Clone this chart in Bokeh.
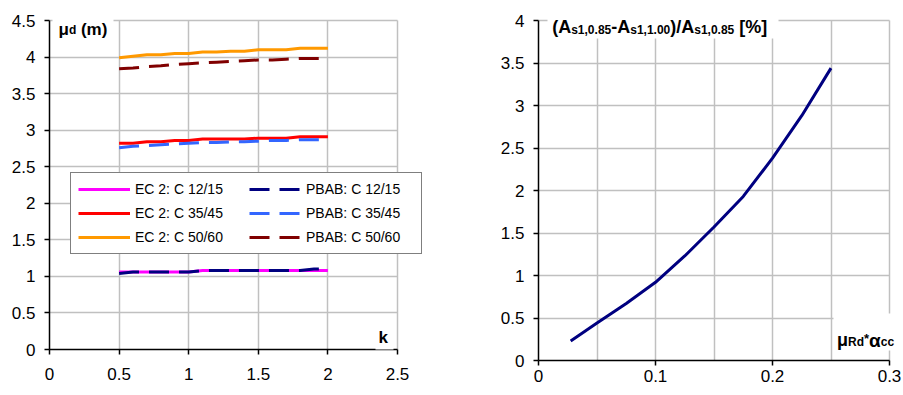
from bokeh.plotting import figure
from bokeh.models import (FixedTicker, CustomJSTickFormatter, Legend, LegendItem,
                          Label, Range1d, BoxAnnotation, Grid)
from bokeh.embed import file_html
from bokeh.resources import INLINE

# ---------------- data ----------------
k_values = [0.5, 0.6, 0.7, 0.8, 0.9, 1.0, 1.1, 1.2, 1.3, 1.4, 1.5, 1.6, 1.7, 1.8, 1.9, 2.0]
ec2_c12 = [1.06, 1.06, 1.06, 1.06, 1.06, 1.06, 1.08, 1.08, 1.08, 1.08, 1.08, 1.08, 1.08, 1.08, 1.08, 1.08]
ec2_c35 = [2.82, 2.82, 2.84, 2.84, 2.86, 2.86, 2.88, 2.88, 2.88, 2.88, 2.89, 2.89, 2.89, 2.91, 2.91, 2.91]
ec2_c50 = [3.99, 4.01, 4.03, 4.03, 4.05, 4.05, 4.07, 4.07, 4.08, 4.08, 4.10, 4.10, 4.10, 4.12, 4.12, 4.12]
pbab_c12 = [1.04, 1.06, 1.06, 1.06, 1.06, 1.06, 1.08, 1.08, 1.08, 1.08, 1.08, 1.08, 1.08, 1.08, 1.10, 1.10]
pbab_c35 = [2.76, 2.78, 2.79, 2.80, 2.81, 2.82, 2.83, 2.83, 2.84, 2.84, 2.85, 2.86, 2.86, 2.87, 2.87, 2.87]
pbab_c50 = [3.84, 3.85, 3.87, 3.88, 3.90, 3.91, 3.92, 3.93, 3.94, 3.95, 3.96, 3.96, 3.97, 3.98, 3.98, 3.98]

series_labels = ["EC 2: C 12/15", "EC 2: C 35/45", "EC 2: C 50/60",
                 "PBAB: C 12/15", "PBAB: C 35/45", "PBAB: C 50/60"]

mu_values = [0.0275, 0.05, 0.075, 0.1, 0.125, 0.15, 0.175, 0.2, 0.225, 0.25]
ratio_values = [0.23, 0.44, 0.67, 0.92, 1.23, 1.57, 1.93, 2.38, 2.88, 3.44]

left_xticks = [0, 0.5, 1, 1.5, 2, 2.5]
left_yticks = [0, 0.5, 1, 1.5, 2, 2.5, 3, 3.5, 4, 4.5]
right_xticks = [0, 0.1, 0.2, 0.3]
right_xgrid = [0.05, 0.1, 0.15, 0.2, 0.25, 0.3]
right_yticks = [0, 0.5, 1, 1.5, 2, 2.5, 3, 3.5, 4]

FONT = "Liberation Sans"
GRID = "#c0c0c0"
HAS_CROSS = "cross_bounds" in Grid.properties()

BOLD_W = {' ': 278, '(': 333, ')': 333, ',': 278, '-': 333, '.': 278, '/': 278,
          ':': 333, 'A': 722, '[': 333, ']': 333, '%': 889, 's': 556, 'd': 611,
          'k': 556, 'm': 889, 'c': 556, 'R': 722, '*': 389, 'μ': 611, 'α': 620}


def text_w(s, size):
    return sum(BOLD_W.get(c, 556) for c in s) / 1000.0 * size


def compose(p, to_x, to_y, x0, base, pieces, box):
    l, r, top, bot = box
    p.add_layout(BoxAnnotation(left=to_x(l), right=to_x(r), top=to_y(top), bottom=to_y(bot),
                               fill_color="white", fill_alpha=1.0, line_alpha=0.0))
    x = x0
    for t, size, dy in pieces:
        stripped = t.lstrip(" ")
        x += text_w(t[:len(t) - len(stripped)], size)
        p.add_layout(Label(x=to_x(x), y=to_y(base + dy), text=stripped, text_font=FONT,
                           text_font_size=f"{size}px", text_font_style="bold",
                           text_color="black", text_baseline="alphabetic",
                           text_align="left"))
        x += text_w(stripped, size)


fmt_code = "return String(parseFloat(tick.toFixed(3)))"


def style(p, xt, yt, xg, yg, xmax, ymax, xstand, ystand):
    p.outline_line_color = None
    p.xaxis.ticker = FixedTicker(ticks=xt)
    p.yaxis.ticker = FixedTicker(ticks=yt)
    p.xaxis.bounds = (0, xmax)
    p.yaxis.bounds = (0, ymax)
    if HAS_CROSS:
        p.xgrid.ticker = FixedTicker(ticks=xg)
        p.ygrid.ticker = FixedTicker(ticks=yg)
        p.xgrid.cross_bounds = (0, ymax)
        p.ygrid.cross_bounds = (0, xmax)
        p.grid.grid_line_color = GRID
        p.grid.grid_line_width = 1.5
    else:
        p.grid.visible = False
        gx = [v for v in xg if v > 0]
        gy = [v for v in yg if v > 0]
        p.segment(x0=gx, y0=[0] * len(gx), x1=gx, y1=[ymax] * len(gx),
                  line_color=GRID, line_width=1.5)
        p.segment(x0=[0] * len(gy), y0=gy, x1=[xmax] * len(gy), y1=gy,
                  line_color=GRID, line_width=1.5)
    for ax in (p.xaxis, p.yaxis):
        ax.formatter = CustomJSTickFormatter(code=fmt_code)
        ax.axis_line_color = "black"
        ax.axis_line_width = 1.5
        ax.major_tick_line_color = "black"
        ax.major_tick_line_width = 1.5
        ax.major_tick_in = 0
        ax.major_tick_out = 5
        ax.minor_tick_line_color = None
        ax.major_label_text_font = FONT
        ax.major_label_text_font_size = "17px"
        ax.major_label_text_color = "black"
    p.xaxis.major_label_standoff = xstand
    p.yaxis.major_label_standoff = ystand


# ---------------- left chart ----------------
# plot area of the data: x 49..397 px, y 20..349 px; frame extended to hold legend/title
L_X0, L_Y0 = 49, 349
L_PX = 348 / 2.5
L_PY = 329 / 4.5
L_FR_RIGHT, L_FR_TOP = 424, 8
p1 = figure(width=450, height=395,
            x_range=Range1d(0, (L_FR_RIGHT - L_X0) / L_PX),
            y_range=Range1d(0, (L_Y0 - L_FR_TOP) / L_PY),
            output_backend="svg", toolbar_location=None,
            min_border_left=L_X0, min_border_right=450 - L_FR_RIGHT,
            min_border_top=L_FR_TOP, min_border_bottom=395 - L_Y0)
style(p1, left_xticks, left_yticks, left_xticks, left_yticks, 2.5, 4.5, 13, 9)

r_ec12 = p1.line(k_values, ec2_c12, line_color="#ff00ff", line_width=3)
r_ec35 = p1.line(k_values, ec2_c35, line_color="#ff0000", line_width=3)
r_ec50 = p1.line(k_values, ec2_c50, line_color="#ff9900", line_width=3)
r_pb35 = p1.line(k_values, pbab_c35, line_color="#3366ff", line_width=3, line_dash="20 10")
r_pb50 = p1.line(k_values, pbab_c50, line_color="#800000", line_width=3, line_dash="20 10")
r_pb12 = p1.line(k_values, pbab_c12, line_color="#000080", line_width=3, line_dash="20 10")

renderers = [r_ec12, r_ec35, r_ec50, r_pb12, r_pb35, r_pb50]
legend = Legend(items=[LegendItem(label=lab, renderers=[r]) for lab, r in zip(series_labels, renderers)],
                location=(21, 95), ncols=2, orientation="vertical",
                label_text_font=FONT, label_text_font_size="14px", label_text_color="black",
                glyph_width=52, glyph_height=18, label_height=18, label_width=108,
                spacing=6, padding=7, label_standoff=5, margin=0,
                border_line_color="black", border_line_width=1.2,
                background_fill_color="white", background_fill_alpha=1.0)
p1.add_layout(legend)

lx = lambda px: (px - L_X0) / L_PX
ly = lambda py: (L_Y0 - py) / L_PY
compose(p1, lx, ly, 58, 28.5, [("μ", 17, 0), ("d", 12, 1), (" (m)", 17, 0)], (52, 113, 8, 33))
compose(p1, lx, ly, 378, 337, [("k", 17, 0)], (375, 393, 320, 352))

# ---------------- right chart ----------------
# plot area of the data: x 538..889 px (page), y 20..360 px
R_X0, R_Y0 = 88, 360
R_PX = 351 / 0.3
R_PY = 340 / 4
R_FR_RIGHT, R_FR_TOP = 453, 8
p2 = figure(width=453, height=395,
            x_range=Range1d(0, (R_FR_RIGHT - R_X0) / R_PX),
            y_range=Range1d(0, (R_Y0 - R_FR_TOP) / R_PY),
            output_backend="svg", toolbar_location=None,
            min_border_left=R_X0, min_border_right=453 - R_FR_RIGHT,
            min_border_top=R_FR_TOP, min_border_bottom=395 - R_Y0)
style(p2, right_xticks, right_yticks, right_xgrid, right_yticks, 0.3, 4, 4, 9)

p2.line(mu_values, ratio_values, line_color="#000080", line_width=3)

rx = lambda px: (px - 450 - R_X0) / R_PX
ry = lambda py: (R_Y0 - py) / R_PY
compose(p2, rx, ry, 551.7, 26.7,
        [("(A", 18, 0), ("s1,0.85", 12, 2.5), ("-A", 18, 0), ("s1,1.00", 12, 2.5),
         (")/A", 18, 0), ("s1,0.85", 12, 2.5), (" [%]", 18, 0)],
        (547, 778, 8, 38))
compose(p2, rx, ry, 836.5, 339.5,
        [("μ", 18, 0), ("Rd", 12, 1.5), ("*", 13, -2), ("α", 19, 0), ("cc", 12, 1.5)],
        (833, 903, 313, 350))

html = file_html([p1, p2], INLINE)
html = html.replace("</head>",
                    "<style>html,body{margin:0;padding:0}body{display:flex;flex-direction:row;"
                    "align-items:flex-start}</style></head>", 1)
open("out.html", "w").write(html)
